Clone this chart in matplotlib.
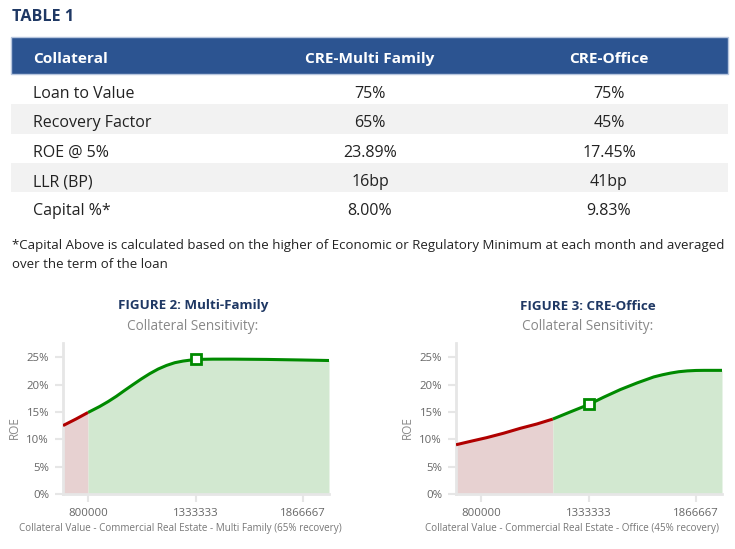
import matplotlib
matplotlib.use("Agg")
import matplotlib.pyplot as plt
from matplotlib.patches import Rectangle

plt.rcParams['font.family'] = ['Open Sans', 'DejaVu Sans']

# ---------------- data ----------------
table_title = "TABLE 1"
columns = ["Collateral", "CRE-Multi Family", "CRE-Office"]
row_labels = ["Loan to Value", "Recovery Factor", "ROE @ 5%", "LLR (BP)", "Capital %*"]
mf_values = ["75%", "65%", "23.89%", "16bp", "8.00%"]
office_values = ["75%", "45%", "17.45%", "41bp", "9.83%"]
footnote_lines = ["*Capital Above is calculated based on the higher of Economic or Regulatory Minimum at each month and averaged",
                  "over the term of the loan"]

x_ticks = [800000, 1333333, 1866667]
y_ticks = [0, 5, 10, 15, 20, 25]

mf_red_x = [676000, 740000, 800000]
mf_red_y = [12.5, 13.7, 14.9]
mf_green_x = [800000, 858000, 900000, 940000, 980000, 1023000, 1065000, 1106000, 1148000,
              1189000, 1230000, 1271000, 1333333, 1420000, 1520000, 1685000, 1850000, 1994000]
mf_green_y = [14.9, 16.0, 16.9, 17.85, 18.9, 20.0, 21.05, 22.0, 22.85,
              23.5, 24.0, 24.3, 24.6, 24.65, 24.65, 24.6, 24.5, 24.4]
mf_point = (1333333, 24.6)

of_red_x = [676000, 745000, 828000, 911000, 994000, 1077000, 1156000]
of_red_y = [9.0, 9.6, 10.3, 11.1, 12.0, 12.8, 13.7]
of_green_x = [1156000, 1242000, 1333333, 1408000, 1491000, 1573000, 1656000,
              1700000, 1739000, 1780000, 1822000, 1865000, 1905000, 1994000]
of_green_y = [13.7, 15.0, 16.35, 17.7, 19.1, 20.3, 21.4, 21.8, 22.1, 22.35, 22.5, 22.58, 22.6, 22.6]
of_point = (1333333, 16.4)

charts = [
    dict(title="FIGURE 2: Multi-Family", xlabel="Collateral Value - Commercial Real Estate - Multi Family (65% recovery)",
         rx=mf_red_x, ry=mf_red_y, gx=mf_green_x, gy=mf_green_y, pt=mf_point,
         left=63, title_cx=193, xlabel_cx=180, ylabel_x=14),
    dict(title="FIGURE 3: CRE-Office", xlabel="Collateral Value - Commercial Real Estate - Office (45% recovery)",
         rx=of_red_x, ry=of_red_y, gx=of_green_x, gy=of_green_y, pt=of_point,
         left=456, title_cx=588, xlabel_cx=572, ylabel_x=407),
]

# ---------------- figure ----------------
W, H = 735, 549
fig = plt.figure(figsize=(W / 100, H / 100), dpi=100)
fx = lambda x: x / W
fy = lambda y: 1 - y / H

navy = "#1f3864"
header_blue = "#2c5491"
band_grey = "#f2f2f2"
text_dark = "#222222"

fig.text(fx(12), fy(17), table_title, fontsize=11.6, fontweight='bold', color=navy, va='center', ha='left')

# header band
fig.patches.append(Rectangle((fx(11), fy(74)), fx(728) - fx(11), fy(37) - fy(74), transform=fig.transFigure,
                             facecolor=header_blue, edgecolor="#b7c6de", lw=1, zorder=0))
col_x = [33, 370, 609]
col_ha = ['left', 'center', 'center']
for c, x, ha in zip(columns, col_x, col_ha):
    fig.text(fx(x), fy(59), c, fontsize=11.1, fontweight='bold', color='white', ha=ha, va='center')

row_h = 29.3
row_top0 = 75
for i, (lab, v1, v2) in enumerate(zip(row_labels, mf_values, office_values)):
    top = row_top0 + i * row_h
    if i % 2 == 1:
        fig.patches.append(Rectangle((fx(11), fy(top + row_h)), fx(728) - fx(11), fy(top) - fy(top + row_h),
                                     transform=fig.transFigure, facecolor=band_grey, edgecolor='none', zorder=0))
    cy = top + row_h / 2 + 4.5
    for txt, x, ha in zip([lab, v1, v2], col_x, col_ha):
        fig.text(fx(x), fy(cy), txt, fontsize=11.5, color=text_dark, ha=ha, va='center')

for k, line in enumerate(footnote_lines):
    fig.text(fx(12), fy(245 + 20 * k), line, fontsize=9.5, color=text_dark, ha='left', va='center')

green_line = "#008a00"
red_line = "#b00000"
green_fill = "#d2e8d0"
red_fill = "#e7d1d1"
axis_grey = "#e6e6e6"
tick_grey = "#666666"

ax_bottom_px, ax_top_px, ax_w_px = 494, 343, 266
for ch in charts:
    ax = fig.add_axes([fx(ch['left']), fy(ax_bottom_px), ax_w_px / W, (ax_bottom_px - ax_top_px) / H])
    ax.fill_between(ch['rx'], 0, ch['ry'], color=red_fill, lw=0, zorder=1)
    ax.fill_between(ch['gx'], 0, ch['gy'], color=green_fill, lw=0, zorder=1)
    ax.plot(ch['rx'], ch['ry'], color=red_line, lw=2.2, zorder=3, solid_capstyle='butt', solid_joinstyle='round')
    ax.plot(ch['gx'], ch['gy'], color=green_line, lw=2.2, zorder=3, solid_capstyle='butt', solid_joinstyle='round')
    ax.plot([ch['pt'][0]], [ch['pt'][1]], marker='s', ms=7, mfc='white', mec=green_line, mew=2, zorder=4)
    ax.set_xlim(min(ch['rx']), max(ch['gx']))
    ax.set_ylim(0, 27.6)
    ax.set_xticks(x_ticks)
    ax.set_xticklabels([str(v) for v in x_ticks])
    ax.set_yticks(y_ticks)
    ax.set_yticklabels([f"{v}%" for v in y_ticks])
    for s in ['top', 'right']:
        ax.spines[s].set_visible(False)
    for s in ['left', 'bottom']:
        ax.spines[s].set_color(axis_grey)
        ax.spines[s].set_linewidth(2)
    ax.tick_params(axis='both', colors=axis_grey, length=6, width=1.5, labelcolor=tick_grey, labelsize=8.2)
    ax.tick_params(axis='x', pad=4)
    ax.tick_params(axis='y', pad=4)
    ax.set_facecolor('none')
    fig.text(fx(ch['title_cx']), fy(306), ch['title'], fontsize=9.6, fontweight='bold', color=navy, ha='center', va='center')
    fig.text(fx(ch['title_cx']), fy(326), "Collateral Sensitivity:", fontsize=9.8, color="#888888", ha='center', va='center')
    fig.text(fx(ch['xlabel_cx']), fy(529), ch['xlabel'], fontsize=7.1, color="#777777", ha='center', va='center')
    fig.text(fx(ch['ylabel_x']), fy(428), "ROE", fontsize=8.5, color="#888888", rotation=90, ha='center', va='center')

fig.savefig("out.png", dpi=100)
